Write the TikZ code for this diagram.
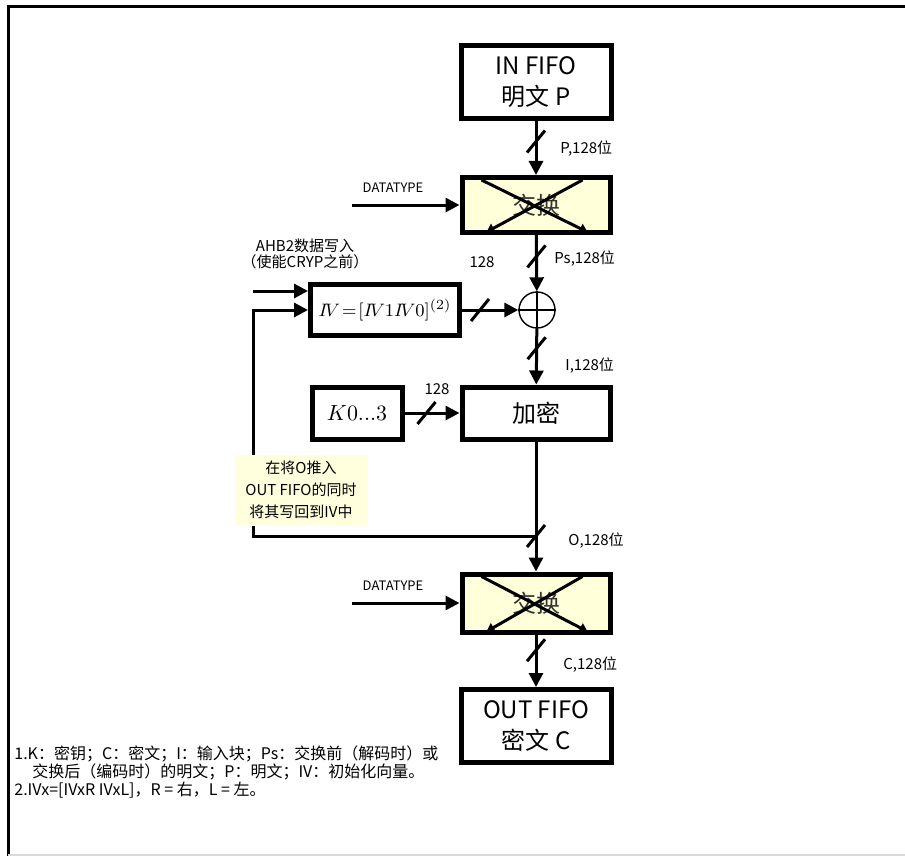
\documentclass[tikz,border=0pt]{standalone}
\usepackage{fontspec}
\newfontfamily\zh{Noto Sans CJK SC}
\usetikzlibrary{arrows.meta}
\definecolor{swapfill}{HTML}{FFFFD9}
\definecolor{notefill}{HTML}{FFFFDD}

\begin{document}
\begin{tikzpicture}[x=0.5pt, y=-0.5pt, every node/.style={font=\zh\fontsize{7.5}{8}\selectfont}, >={Triangle[length=7pt,width=7pt]},
	blk/.style={draw, line width=2.5pt, align=center, inner sep=0pt, font=\zh\fontsize{12}{15.5}\selectfont},
	swp/.style={blk, fill=swapfill, minimum width=74pt, minimum height=27.5pt, text=black!80},
	sig/.style={line width=1.5pt},
	bus/.style={line width=1.5pt},
	xarr/.style={line width=1.5pt, -{Triangle[length=4pt,width=5pt]}},
	lbl/.style={anchor=west, inner sep=0pt}]
	\useasboundingbox (0,0) rectangle (905,856);
	% frame
	\draw[line width=1.5pt] (905,7) -- (8,7) -- (8,856);
	\draw[gray!30, line width=0.6pt] (8,855) -- (905,855);

	% blocks
	\node[blk, minimum width=75pt, minimum height=36.5pt] (infifo) at (536,82) {IN FIFO\\明文 P};
	\node[swp] (swap1) at (536,205) {交换};
	\node[blk, minimum width=74.5pt, minimum height=25.5pt, font=\fontsize{9.5}{11}\selectfont] (iv) at (385,310) {$I\!V\!=\![I\!V1I\!V0]^{(2)}$};
	\node[draw, circle, line width=0.7pt, minimum size=18pt, inner sep=0pt] (xor) at (537,310) {};
	\draw[line width=0.7pt] (xor.north) -- (xor.south) (xor.west) -- (xor.east);
	\node[blk, minimum width=45pt, minimum height=26pt, font=\fontsize{11}{13}\selectfont] (key) at (357,413) {$K0...3$};
	\node[blk, minimum width=74pt, minimum height=26pt] (enc) at (536,413) {加密};
	\node[swp, minimum height=29pt] (swap2) at (536,603) {交换};
	\node[blk, minimum width=75pt, minimum height=36.5pt] (outfifo) at (536,726) {OUT FIFO\\密文 C};

	% crossing arrows in the swap blocks
	\foreach \s in {swap1,swap2} {
		\draw[xarr] ([shift={(22,5)}]\s.north west) -- ([shift={(-25,-3)}]\s.south east);
		\draw[xarr] ([shift={(-30,5)}]\s.north east) -- ([shift={(27,-3)}]\s.south west);
	}

	% inputs
	\node[font=\zh\fontsize{6.5}{7}\selectfont] (dt1) at (393,188) {DATATYPE};
	\node[font=\zh\fontsize{6.5}{7}\selectfont] (dt2) at (393,586) {DATATYPE};
	\coordinate (dt1in) at (352,205);
	\coordinate (dt2in) at (352,603);
	\draw[sig,->] (dt1in) -- (swap1);
	\draw[sig,->] (dt2in) -- (swap2);
	\node[align=center] (ahb) at (305,254) {AHB2数据写入\\（使能CRYP之前）};
	\coordinate (ahbin) at (253,291);
	\draw[sig,->] (ahbin) -- (ahbin -| iv.west);

	% data path
	\draw[sig,->] (infifo) -- coordinate[pos=0.38] (b1) (swap1);
	\draw[sig,->] (swap1) -- coordinate[pos=0.38] (b2) (xor);
	\draw[sig,->] (iv) -- coordinate[pos=0.32] (b3) (xor);
	\draw[sig,->] (xor) -- coordinate[pos=0.35] (b4) (enc);
	\draw[sig,->] (key) -- coordinate[pos=0.4] (b5) (enc);
	\draw[sig,->] (enc) -- (swap2);
	\draw[sig,->] (swap2) -- coordinate[pos=0.3] (b7) (outfifo);
	\coordinate (tap) at (536,536);
	\coordinate (fbcorner) at (253,536);
	\draw[sig,->] (tap) -- (fbcorner) |- (iv);
	\foreach \b in {b1,b2,b3,b4,b5,tap,b7}
		\draw[bus] (\b) +(-9,11) -- +(9,-11);

	% bus labels
	\node[lbl] (lp) at (560,149) {P,128位};
	\node[lbl] (lps) at (554,259) {Ps,128位};
	\node[anchor=center] (l128a) at (482,262) {128};
	\node[lbl] (li) at (565,366) {I,128位};
	\node[anchor=center] (l128b) at (437,389) {128};
	\node[lbl] (lo) at (568,541) {O,128位};
	\node[lbl] (lc) at (563,665) {C,128位};

	% note on the feedback
	\node[fill=notefill, minimum width=66.5pt, minimum height=35.5pt, align=center, inner sep=0pt, font=\zh\fontsize{7.5}{11}\selectfont] (note) at (301,490) {在将O推入\\OUT FIFO的同时\\将其写回到IV中};

	% footnotes
	\node[anchor=north west, align=left, inner sep=0pt, font=\zh\fontsize{8}{7}\selectfont] (notes) at (14,745) {1.K：密钥；C：密文；I：输入块；Ps：交换前（解码时）或\\\hspace*{9pt}交换后（编码时）的明文；P：明文；IV：初始化向量。\\2.IVx=[IVxR IVxL]，R = 右，L = 左。};
\end{tikzpicture}
\end{document}
